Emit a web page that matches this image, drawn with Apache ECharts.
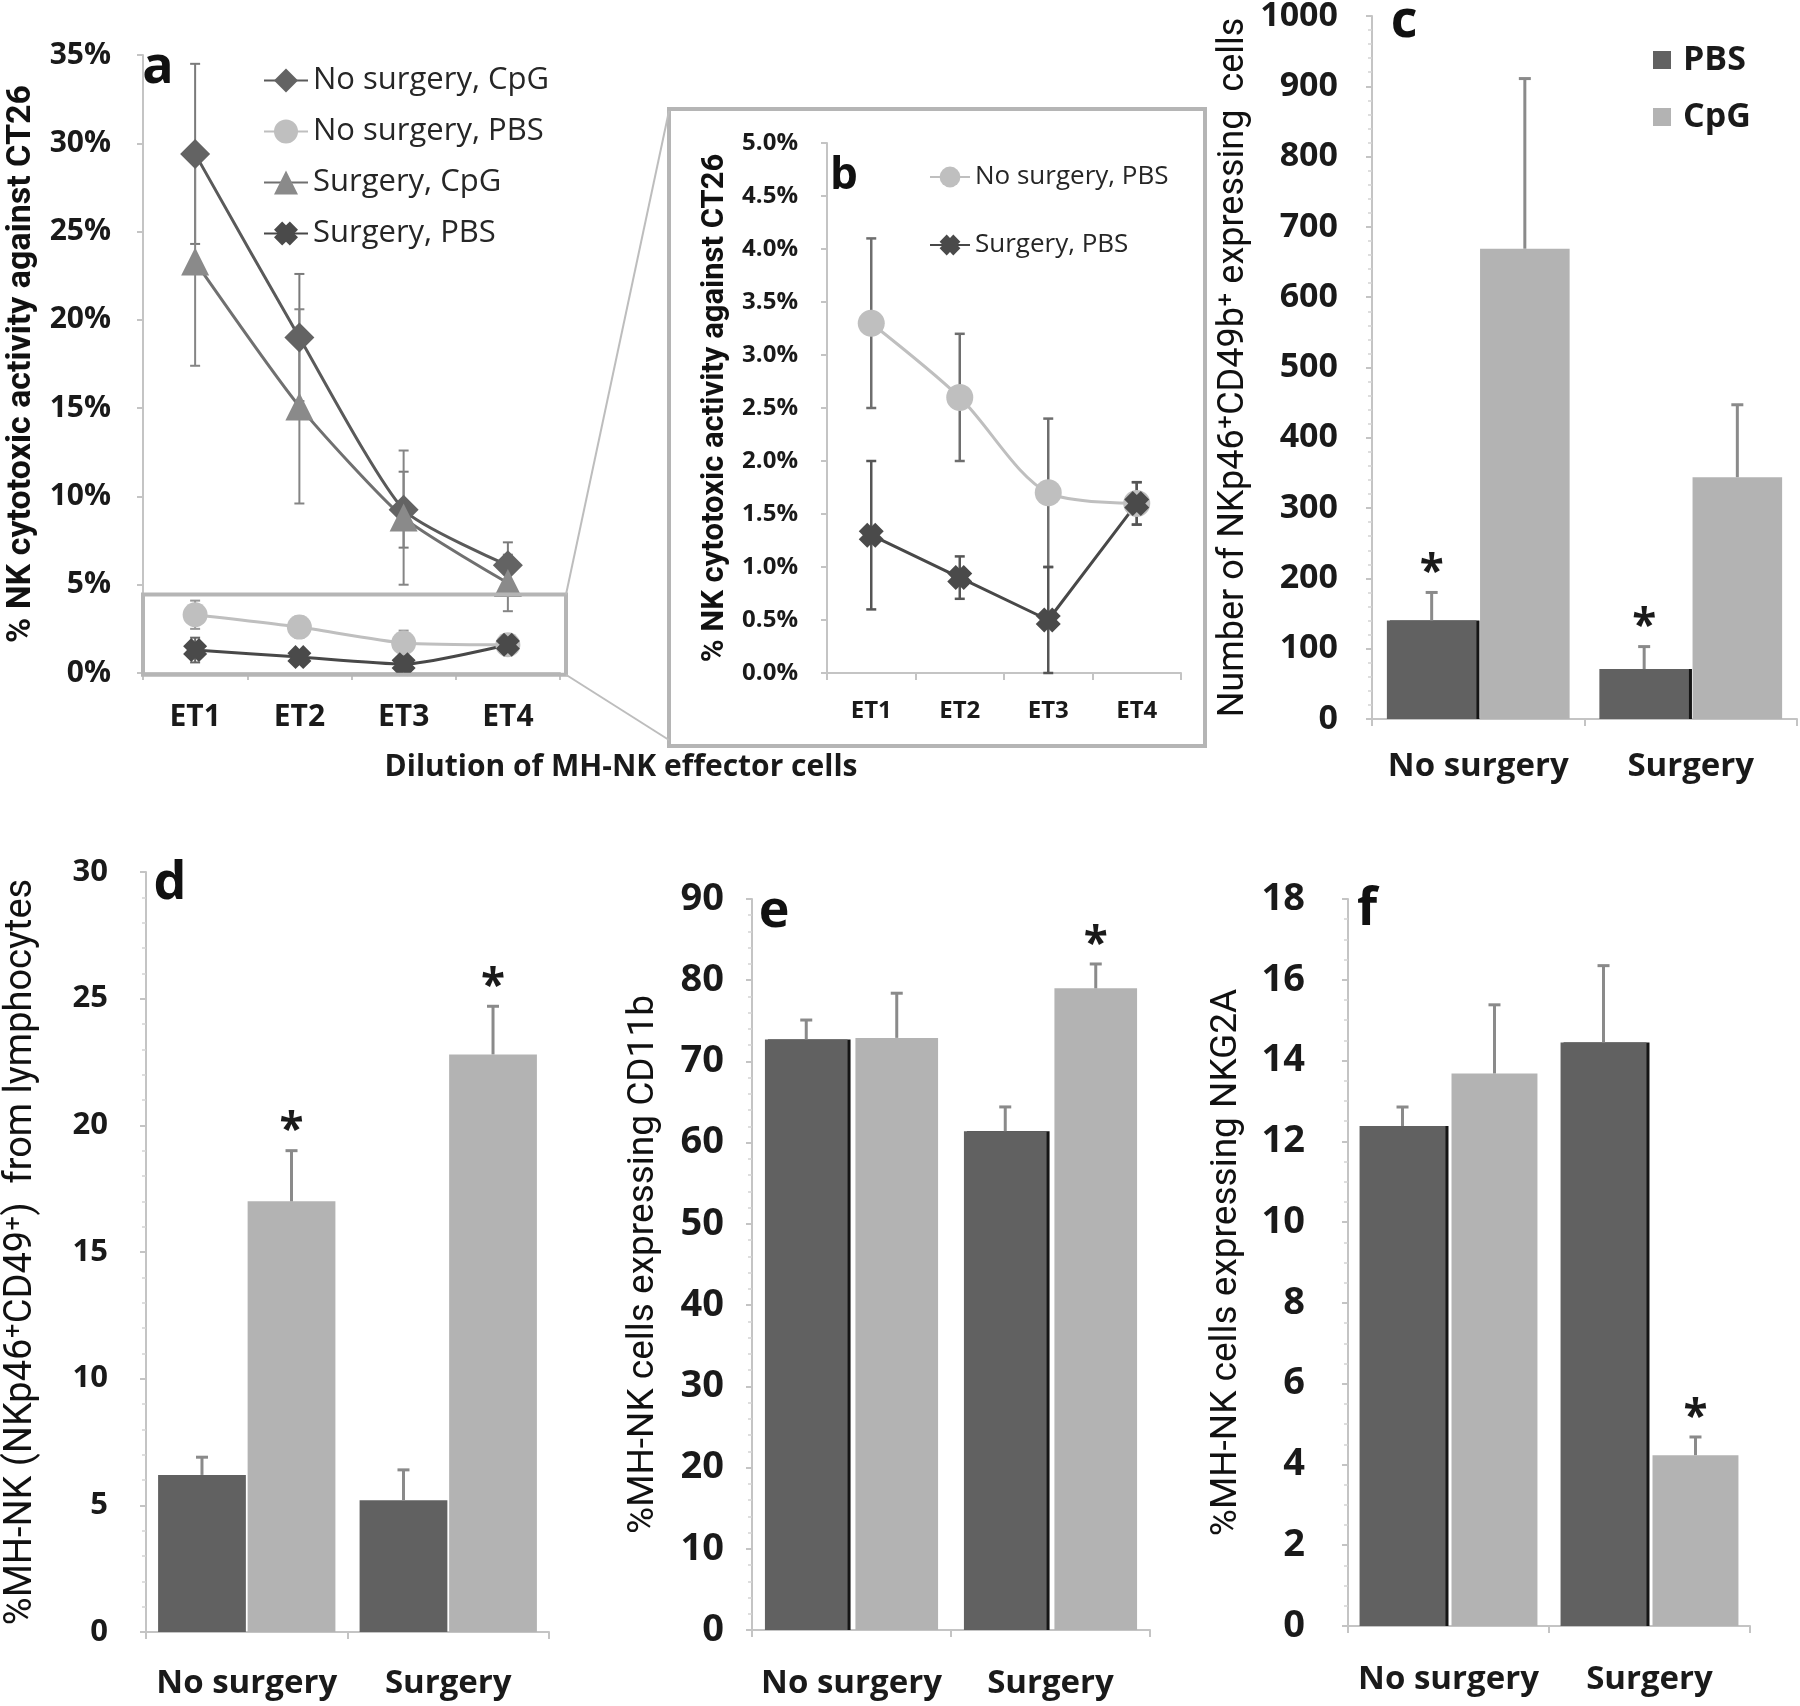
<!DOCTYPE html>
<html><head><meta charset="utf-8">
<script src="https://cdn.jsdelivr.net/npm/echarts@6/dist/echarts.min.js"></script>
<style>html,body{margin:0;padding:0;background:#fff}#chart{width:1800px;height:1706px}</style>
</head><body><div id="chart"></div>
<script>
// ---------- data ----------
const dilutions = ['ET1', 'ET2', 'ET3', 'ET4'];
const noSurgCpG = [29.4, 19.0, 9.25, 6.1];
const noSurgCpGErr = [5.1, 3.6, 2.15, 1.3];
const surgCpG = [23.3, 15.1, 8.8, 5.1];
const surgCpGErr = [5.9, 5.5, 3.8, 1.6];
const noSurgPBS = [3.3, 2.6, 1.7, 1.6];
const noSurgPBSErr = [0.8, 0.6, 0.7, 0.2];
const surgPBS = [1.3, 0.9, 0.5, 1.6];
const surgPBSErr = [0.7, 0.2, 0.5, 0.2];

const groups = ['No surgery', 'Surgery'];
const cPBS = [140, 71], cPBSErr = [40, 32], cCpG = [669, 344], cCpGErr = [242, 103];
const cStarPBS = [1, 1], cStarCpG = [0, 0];
const dPBS = [6.2, 5.2], dPBSErr = [0.7, 1.2], dCpG = [17.0, 22.8], dCpGErr = [2.0, 1.9];
const dStarPBS = [0, 0], dStarCpG = [1, 1];
const ePBS = [72.7, 61.4], ePBSErr = [2.4, 3.0], eCpG = [72.9, 79.0], eCpGErr = [5.5, 3.0];
const eStarPBS = [0, 0], eStarCpG = [0, 1];
const fPBS = [12.38, 14.45], fPBSErr = [0.47, 1.9], fCpG = [13.68, 4.23], fCpGErr = [1.7, 0.45];
const fStarPBS = [0, 0], fStarCpG = [0, 1];

const yTicksA = [0, 35, 5], yTicksB = [0, 5, 0.5], yTicksC = [0, 1000, 100];
const yTicksD = [0, 30, 5], yTicksE = [0, 90, 10], yTicksF = [0, 18, 2];
const zoomBoxTop = 4.45;

// ---------- style ----------
const FONT = "'Open Sans', 'DejaVu Sans', sans-serif";
const TFONT = "Roboto, 'Open Sans', sans-serif";
const DARK = '#616161', LIGHT = '#b3b3b3', AX = '#c4c4c4';

const gridRects = [
  {left: 143, top: 55, width: 417, height: 618},
  {left: 827, top: 143, width: 354, height: 530},
  {left: 1372, top: 16, width: 425, height: 703},
  {left: 146, top: 872, width: 403, height: 760},
  {left: 752, top: 899, width: 398, height: 731},
  {left: 1348, top: 899, width: 402, height: 727}
];
const grids = gridRects.map(g => Object.assign({outerBoundsMode: 'none', containLabel: false}, g));

function catAxis(gi, data, fontSize, margin) {
  return {type: 'category', gridIndex: gi, data: data, boundaryGap: true,
    axisLine: {show: true, lineStyle: {color: AX, width: 2}},
    axisTick: {show: true, length: 7, lineStyle: {color: AX, width: 2}},
    axisLabel: {fontFamily: FONT, fontWeight: 'bold', fontSize: fontSize, color: '#1a1a1a', margin: margin, interval: 0},
    splitLine: {show: false}};
}
function valAxis(gi, ticks, fmt, fontSize, margin, name, nameSize, nameWeight, nameGap, minor) {
  return {type: 'value', gridIndex: gi, min: ticks[0], max: ticks[1], interval: ticks[2],
    axisLine: {show: true, lineStyle: {color: AX, width: 2}},
    axisTick: {show: true, length: 6, lineStyle: {color: AX, width: 2}},
    minorTick: {show: !!minor, splitNumber: minor || 5, length: 4, lineStyle: {color: '#d4d4d4', width: 1.5}},
    splitLine: {show: false},
    axisLabel: {fontFamily: FONT, fontWeight: 'bold', fontSize: fontSize, color: '#1a1a1a', margin: margin, formatter: fmt},
    name: name, nameLocation: 'middle', nameGap: nameGap, nameMoveOverlap: false,
    nameTextStyle: {fontFamily: TFONT, fontSize: nameSize, fontWeight: nameWeight, color: '#111'}};
}

function errSeries(gi, vals, errs, o) {
  const stars = o.stars || vals.map(() => 0);
  const data = vals.map((v, i) => [i, v, errs[i], stars[i]]);
  return {type: 'custom', xAxisIndex: gi, yAxisIndex: gi, z: o.z || 5, silent: true, clip: false,
    data: data, encode: {x: 0, y: 1},
    renderItem: function (params, api) {
      const i = api.value(0), v = api.value(1), e = api.value(2), s = api.value(3);
      const w = api.size([1, 0])[0];
      let dx = 0;
      if (o.pos) { const bw = w * (1 - o.cg) / (2 + o.bg); dx = o.pos * bw * (1 + o.bg) / 2; }
      const pt = api.coord([i, v + e]);
      const pb = api.coord([i, o.both ? Math.max(v - e, 0) : v]);
      const x = pt[0] + dx, c = o.cap / 2;
      const st = {stroke: o.color, lineWidth: o.width};
      const ch = [
        {type: 'line', shape: {x1: x, y1: pt[1], x2: x, y2: pb[1]}, style: st},
        {type: 'line', shape: {x1: x - c, y1: pt[1], x2: x + c, y2: pt[1]}, style: st}
      ];
      if (o.both) ch.push({type: 'line', shape: {x1: x - c, y1: pb[1], x2: x + c, y2: pb[1]}, style: st});
      if (s) ch.push({type: 'text', x: x, y: pt[1] - 19,
        style: {text: '*', fontSize: 44, fontWeight: 'bold', fontFamily: FONT, fill: '#1a1a1a', align: 'center', verticalAlign: 'middle'}});
      return {type: 'group', children: ch};
    }};
}
function barSeries(gi, name, vals, color, cg, bg, shadow) {
  return {type: 'bar', name: name, xAxisIndex: gi, yAxisIndex: gi, data: vals,
    barCategoryGap: (cg * 100) + '%', barGap: (bg * 100) + '%', z: 2,
    itemStyle: {color: color, shadowColor: shadow ? '#151515' : 'rgba(0,0,0,0)', shadowOffsetX: shadow ? 3 : 0, shadowBlur: 0}};
}
function lineSeries(gi, name, vals, symbol, size, fill, lineColor, smooth) {
  return {type: 'line', name: name, xAxisIndex: gi, yAxisIndex: gi, data: vals, symbol: symbol, symbolSize: size,
    smooth: smooth, z: 3, lineStyle: {color: lineColor, width: 3}, itemStyle: {color: fill, borderWidth: 0}};
}

const XSYM = 'path://M0,3.4 L3.4,0 L5,1.6 L6.6,0 L10,3.4 L8.4,5 L10,6.6 L6.6,10 L5,8.4 L3.4,10 L0,6.6 L1.6,5 Z';

const barCfg = {
  2: {cg: 0.14, bg: 0.04, shadow: true},
  3: {cg: 0.12, bg: 0.02, shadow: false},
  4: {cg: 0.13, bg: 0.095, shadow: true},
  5: {cg: 0.115, bg: 0.07, shadow: true}
};
const barPanels = [
  [2, cPBS, cPBSErr, cStarPBS, cCpG, cCpGErr, cStarCpG],
  [3, dPBS, dPBSErr, dStarPBS, dCpG, dCpGErr, dStarCpG],
  [4, ePBS, ePBSErr, eStarPBS, eCpG, eCpGErr, eStarCpG],
  [5, fPBS, fPBSErr, fStarPBS, fCpG, fCpGErr, fStarCpG]
];

const series = [
  lineSeries(0, 'No surgery, CpG', noSurgCpG, 'diamond', 30, '#636363', '#5a5a5a', 0.2),
  lineSeries(0, 'No surgery, PBS', noSurgPBS, 'circle', 25, '#bfbfbf', '#bfbfbf', 0.2),
  lineSeries(0, 'Surgery, CpG', surgCpG, 'triangle', 28, '#8a8a8a', '#707070', 0.2),
  lineSeries(0, 'Surgery, PBS', surgPBS, XSYM, 24, '#4a4a4a', '#484848', 0.2),
  errSeries(0, noSurgCpG, noSurgCpGErr, {both: true, cap: 10, color: '#7a7a7a', width: 2, z: 1}),
  errSeries(0, surgCpG, surgCpGErr, {both: true, cap: 10, color: '#858585', width: 2, z: 1}),
  errSeries(0, noSurgPBS, noSurgPBSErr, {both: true, cap: 10, color: '#999', width: 2, z: 1}),
  errSeries(0, surgPBS, surgPBSErr, {both: true, cap: 10, color: '#666', width: 2, z: 1}),
  lineSeries(1, 'No surgery, PBS', noSurgPBS, 'circle', 27, '#bfbfbf', '#bfbfbf', 0.3),
  lineSeries(1, 'Surgery, PBS', surgPBS, XSYM, 25, '#4a4a4a', '#484848', 0),
  errSeries(1, noSurgPBS, noSurgPBSErr, {both: true, cap: 10, color: '#6e6e6e', width: 2.5, z: 1}),
  errSeries(1, surgPBS, surgPBSErr, {both: true, cap: 10, color: '#555', width: 2.5, z: 1})
];
barPanels.forEach(p => {
  const gi = p[0], cfg = barCfg[gi];
  series.push(barSeries(gi, 'PBS', p[1], DARK, cfg.cg, cfg.bg, cfg.shadow));
  series.push(barSeries(gi, 'CpG', p[4], LIGHT, cfg.cg, cfg.bg, false));
  series.push(errSeries(gi, p[1], p[2], {pos: -1, cg: cfg.cg, bg: cfg.bg, cap: 12, color: '#8a8a8a', width: 3, stars: p[3]}));
  series.push(errSeries(gi, p[4], p[5], {pos: 1, cg: cfg.cg, bg: cfg.bg, cap: 12, color: '#8a8a8a', width: 3, stars: p[6]}));
});

const pct0 = v => v + '%';
const pct1 = v => v.toFixed(1) + '%';
const plain = v => String(v);

const option = {
  animation: false,
  backgroundColor: '#fff',
  grid: grids,
  xAxis: [
    catAxis(0, dilutions, 30, 29),
    catAxis(1, dilutions, 24, 26),
    catAxis(2, groups, 33, 31),
    catAxis(3, groups, 33, 35),
    catAxis(4, groups, 33, 37),
    catAxis(5, groups, 33, 37)
  ],
  yAxis: [
    valAxis(0, yTicksA, pct0, 30, 32, '% NK cytotoxic activity against CT26', 34, 'bold', 105, 0),
    valAxis(1, yTicksB, pct1, 24, 29, '% NK cytotoxic activity against CT26', 31, 'bold', 96, 0),
    valAxis(2, yTicksC, plain, 34, 34, 'Number of NKp46\u207ACD49b\u207A expressing  cells', 36, 'normal', 120, 5),
    valAxis(3, yTicksD, plain, 31, 38, '%MH-NK (NKp46\u207ACD49\u207A)  from lymphocytes', 38, 'normal', 106, 5),
    valAxis(4, yTicksE, plain, 38, 28, '%MH-NK cells expressing CD11b', 37, 'normal', 90, 5),
    valAxis(5, yTicksF, plain, 38, 43, '%MH-NK cells expressing NKG2A', 37, 'normal', 103, 4)
  ],
  legend: [
    {orient: 'vertical', left: 258, top: 60, itemWidth: 44, itemHeight: 30, itemGap: 20,
      data: ['No surgery, CpG', 'No surgery, PBS', 'Surgery, CpG', 'Surgery, PBS'],
      textStyle: {fontFamily: FONT, fontSize: 31, lineHeight: 30, color: '#262626'}},
    {orient: 'vertical', left: 924, top: 159, itemWidth: 40, itemHeight: 26, itemGap: 42,
      data: ['No surgery, PBS', 'Surgery, PBS'],
      textStyle: {fontFamily: FONT, fontSize: 26, lineHeight: 26, color: '#262626'}},
    {orient: 'vertical', left: 1648, top: 38, itemWidth: 18, itemHeight: 18, itemGap: 23, icon: 'rect',
      data: ['PBS', 'CpG'],
      textStyle: {fontFamily: FONT, fontSize: 34, lineHeight: 34, fontWeight: 'bold', color: '#1a1a1a', padding: [0, 0, 0, 7]}}
  ],
  series: series
};

const chart = echarts.init(document.getElementById('chart'), null, {renderer: 'canvas'});
chart.setOption(option);

// decorations (panel letters, zoom boxes, shared x-axis title)
const ga = gridRects[0], gb = gridRects[1];
const yTop = chart.convertToPixel({yAxisIndex: 0}, zoomBoxTop);
const yBot = chart.convertToPixel({yAxisIndex: 0}, -0.1);
const ax1 = ga.left, ax2 = ga.left + ga.width + 6;
const bL = gb.left - 158, bT = gb.top - 34, bR = gb.left + gb.width + 24, bB = gb.top + gb.height + 73;
const boxStyle = {stroke: '#b5b5b5', lineWidth: 4, fill: 'none'};
function letter(t, x, y, size) {
  return {type: 'text', x: x, y: y, z: 50,
    style: {text: t, fontFamily: FONT, fontWeight: 'bold', fontSize: size, fill: '#111', align: 'center', verticalAlign: 'middle'}};
}
chart.setOption({graphic: [
  {type: 'rect', shape: {x: ax1, y: yTop, width: ax2 - ax1, height: yBot - yTop}, style: boxStyle, z: 40},
  {type: 'rect', shape: {x: bL, y: bT, width: bR - bL, height: bB - bT}, style: boxStyle, z: 40},
  {type: 'line', shape: {x1: ax2, y1: yTop, x2: bL, y2: bT + 2}, style: {stroke: '#bdbdbd', lineWidth: 2}, z: 40},
  {type: 'line', shape: {x1: ax2, y1: yBot, x2: bL, y2: bB - 6}, style: {stroke: '#bdbdbd', lineWidth: 2}, z: 40},
  {type: 'text', x: 621, y: 767, z: 50,
    style: {text: 'Dilution of MH-NK effector cells', fontFamily: FONT, fontWeight: 'bold', fontSize: 30, fill: '#1a1a1a', align: 'center', verticalAlign: 'middle'}},
  letter('a', 158, 68, 52),
  letter('b', 844, 176, 44),
  letter('c', 1404, 22, 52),
  letter('d', 170, 884, 52),
  letter('e', 774, 912, 52),
  letter('f', 1367, 910, 52)
]});
</script>
</body></html>
